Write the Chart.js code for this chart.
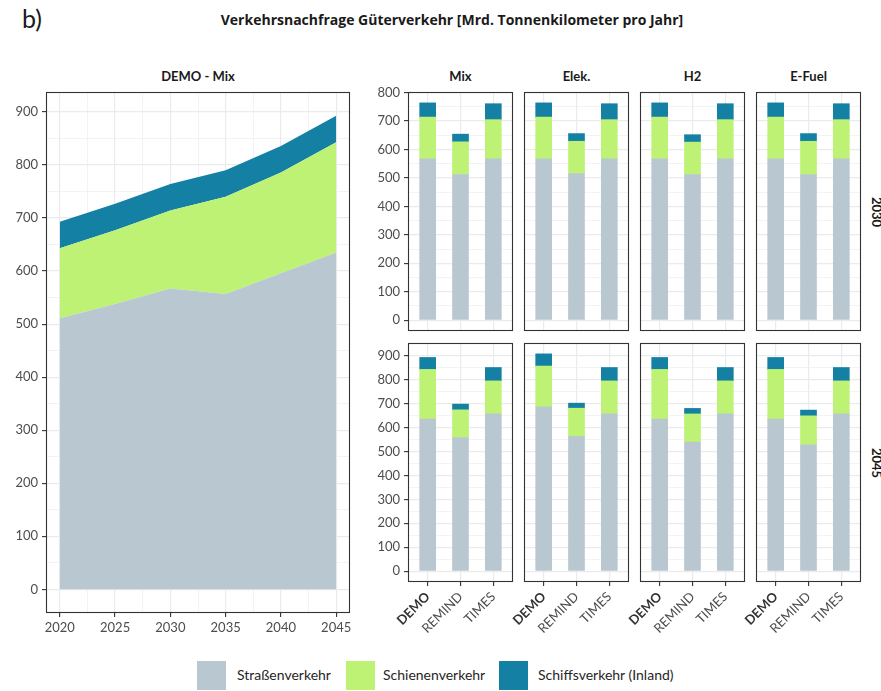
<!DOCTYPE html>
<html><head><meta charset="utf-8">
<script src="https://cdn.jsdelivr.net/npm/chart.js@4.4.1/dist/chart.umd.min.js"></script>
<style>
html,body{margin:0;padding:0;background:#fff;}
body{width:881px;height:691px;position:relative;overflow:hidden;font-family:Lato,"Open Sans",sans-serif;}
canvas{position:absolute;left:0;top:0;}
.t{position:absolute;white-space:nowrap;color:#1a1a1a;line-height:1;}
.strip{font-weight:bold;font-size:13px;transform:translateX(-50%);}
.sq{position:absolute;width:29px;height:29px;}
</style></head><body>
<div class="t" style="left:22px;top:6px;font-size:25px;">b)</div>
<div class="t" id="title" style="left:452px;top:13px;font-size:14px;font-weight:bold;font-family:'Open Sans',sans-serif;transform:translateX(-50%);">Verkehrsnachfrage Güterverkehr [Mrd. Tonnenkilometer pro Jahr]</div>
<div id="labels"></div>
<script>
// ---------------- data ----------------
const seriesNames = ['Straßenverkehr', 'Schienenverkehr', 'Schiffsverkehr (Inland)'];
const seriesColors = ['#B9C7D0', '#BEF274', '#1380A4'];

// left panel: DEMO - Mix over time
const years = [2020, 2025, 2030, 2035, 2040, 2045];
const demoRoad = [511, 538, 567, 557, 596, 635];
const demoRail = [132, 139, 147, 183, 190, 208];
const demoShip = [50, 50, 50, 50, 50, 50];

// facet grid: columns = scenarios, rows = years, bars = models
const models = ['DEMO', 'REMIND', 'TIMES'];
const scenarios = ['Mix', 'Elek.', 'H2', 'E-Fuel'];
const rowYears = ['2030', '2045'];

// values per scenario (Mix, Elek., H2, E-Fuel), each [DEMO, REMIND, TIMES]
const road2030 = [[567, 512, 567], [567, 515, 567], [567, 512, 567], [567, 512, 567]];
const rail2030 = [[147, 115, 138], [147, 114, 138], [147, 114, 138], [147, 117, 138]];
const ship2030 = [[50, 27, 56], [50, 27, 56], [50, 26, 56], [50, 27, 56]];

const road2045 = [[635, 558, 657], [687, 563, 657], [635, 539, 657], [635, 528, 657]];
const rail2045 = [[208, 116, 138], [170, 118, 138], [208, 118, 138], [208, 121, 138]];
const ship2045 = [[50, 24, 56], [51, 21, 56], [50, 23, 56], [50, 24, 56]];

const rowData = [[road2030, rail2030, ship2030], [road2045, rail2045, ship2045]];

// ---------------- helpers ----------------
const W = 881, H = 691;
const FONT = 'Lato, "Open Sans", sans-serif';
const GRID = '#EBEBEB';
const TICKC = '#333333';
const LABC = '#4D4D4D';

const boxPlugin = {
  id: 'panelBox',
  afterDraw(chart) {
    const a = chart.chartArea, c = chart.ctx;
    c.save();
    c.strokeStyle = '#333333';
    c.lineWidth = 1.1;
    c.strokeRect(a.left + 0.5, a.top + 0.5, a.right - a.left - 1, a.bottom - a.top - 1);
    c.restore();
  }
};

function stepRange(a, b, s) { const r = []; for (let v = a; v <= b + 1e-9; v += s) r.push(+v.toFixed(4)); return r; }
function expand(lo, hi) { const d = (hi - lo) * 0.05; return [lo - d, hi + d]; }
function isMajorY(ctx) { return ctx.tick && Math.abs(ctx.tick.value % 100) < 1e-6; }

function yScale(lo, hi, show, yw) {
  return {
    type: 'linear', stacked: true, min: lo, max: hi,
    afterBuildTicks: ax => { ax.ticks = stepRange(0, hi, 50).map(v => ({ value: v })); },
    afterFit: ax => { ax.width = yw; },
    grid: {
      color: GRID, lineWidth: ctx => isMajorY(ctx) ? 1.2 : 0.6,
      drawTicks: show, tickLength: 4, tickWidth: 1.1,
      tickColor: ctx => isMajorY(ctx) ? TICKC : 'rgba(0,0,0,0)'
    },
    border: { display: false },
    ticks: {
      display: show, padding: 4, color: LABC, autoSkip: false,
      font: { family: FONT, size: 13 },
      callback: v => (Math.abs(v % 100) < 1e-6 ? String(v) : '')
    }
  };
}

function baseOptions(box, yw, xh) {
  return {
    responsive: false, animation: false, events: [],
    layout: { padding: { left: box.l - yw, top: box.t, right: W - box.r, bottom: H - box.b - xh } },
    plugins: { legend: { display: false }, tooltip: { enabled: false }, title: { display: false } }
  };
}

function addCanvas() {
  const cv = document.createElement('canvas');
  cv.width = W; cv.height = H;
  cv.style.width = W + 'px'; cv.style.height = H + 'px';
  document.body.appendChild(cv);
  return cv;
}

function addText(txt, x, y, cls, extra) {
  const d = document.createElement('div');
  d.className = 't ' + (cls || '');
  d.textContent = txt;
  d.style.left = x + 'px'; d.style.top = y + 'px';
  if (extra) Object.assign(d.style, extra);
  document.getElementById('labels').appendChild(d);
  return d;
}

// ---------------- left area panel ----------------
(function () {
  const box = { l: 46, t: 92, r: 350, b: 613 };
  const yw = 46, xh = 40;
  const totals = years.map((_, i) => demoRoad[i] + demoRail[i] + demoShip[i]);
  const [ylo, yhi] = expand(0, Math.max(...totals));
  const [xlo, xhi] = expand(years[0], years[years.length - 1]);
  const xt = [];
  years.forEach((y, i) => { xt.push(y); if (i < years.length - 1) xt.push((y + years[i + 1]) / 2); });
  const isMajorX = ctx => ctx.tick && years.includes(ctx.tick.value);
  const series = [demoRoad, demoRail, demoShip];
  const opts = baseOptions(box, yw, xh);
  opts.scales = {
    x: {
      type: 'linear', min: xlo, max: xhi, offset: false,
      afterBuildTicks: ax => { ax.ticks = xt.map(v => ({ value: v })); },
      afterFit: ax => { ax.height = xh; },
      grid: {
        offset: false,
        color: GRID, lineWidth: ctx => isMajorX(ctx) ? 1.2 : 0.6,
        tickLength: 4, tickWidth: 1.1,
        tickColor: ctx => isMajorX(ctx) ? TICKC : 'rgba(0,0,0,0)'
      },
      border: { display: false },
      ticks: {
        padding: 3, color: LABC, autoSkip: false, maxRotation: 0, minRotation: 0,
        font: { family: FONT, size: 13 },
        callback: v => (years.includes(v) ? String(v) : '')
      }
    },
    y: yScale(ylo, yhi, true, yw)
  };
  new Chart(addCanvas(), {
    type: 'line',
    data: {
      datasets: series.map((vals, s) => ({
        label: seriesNames[s],
        data: years.map((y, i) => ({ x: y, y: vals[i] })),
        backgroundColor: seriesColors[s],
        borderColor: seriesColors[s],
        borderWidth: 0, pointRadius: 0, tension: 0,
        fill: s === 0 ? 'origin' : '-1'
      }))
    },
    options: opts,
    plugins: [boxPlugin]
  });
  addText('DEMO - Mix', (box.l + box.r) / 2, 70, 'strip');
})();

// ---------------- facet bar panels ----------------
const colL = [408, 524, 640, 756];
const colW = 105;
const rowBox = [{ t: 92, b: 331 }, { t: 343, b: 582 }];

rowData.forEach((rd, r) => {
  const [road, rail, ship] = rd;
  let rmax = 0;
  scenarios.forEach((_, c) => models.forEach((_, m) => { rmax = Math.max(rmax, road[c][m] + rail[c][m] + ship[c][m]); }));
  const [ylo, yhi] = expand(0, rmax);
  const [xlo, xhi] = [0.4, models.length + 0.6];
  const bottom = r === rowData.length - 1;
  scenarios.forEach((scn, c) => {
    const box = { l: colL[c], r: colL[c] + colW, t: rowBox[r].t, b: rowBox[r].b };
    const showY = c === 0;
    const yw = 40;
    const xh = bottom ? 60 : 0;
    const opts = baseOptions(box, yw, xh);
    opts.scales = {
      x: {
        type: 'linear', min: xlo, max: xhi, offset: false,
        afterBuildTicks: ax => { ax.ticks = models.map((_, i) => ({ value: i + 1 })); },
        afterFit: ax => { ax.height = xh; },
        grid: { offset: false, color: GRID, lineWidth: 1.2, drawTicks: bottom, tickLength: 4, tickWidth: 1.1, tickColor: TICKC },
        border: { display: false },
        ticks: {
          display: bottom, padding: 3, autoSkip: false, minRotation: 45, maxRotation: 45,
          color: ctx => (ctx.tick && models[ctx.tick.value - 1] === 'DEMO' ? '#333333' : LABC),
          font: ctx => ({ family: FONT, size: 13, weight: (ctx.tick && models[ctx.tick.value - 1] === 'DEMO') ? 'bold' : 'normal' }),
          callback: v => models[v - 1] || ''
        }
      },
      y: yScale(ylo, yhi, showY, yw)
    };
    if (!showY) {
      opts.scales.y.ticks.display = false;
      opts.scales.y.grid.drawTicks = false;
    }
    new Chart(addCanvas(), {
      type: 'bar',
      data: {
        datasets: [road, rail, ship].map((arr, s) => ({
          label: seriesNames[s],
          data: models.map((m, i) => ({ x: i + 1, y: arr[c][i] })),
          backgroundColor: seriesColors[s],
          borderWidth: 0,
          grouped: false,
          barThickness: 16
        }))
      },
      options: opts,
      plugins: [boxPlugin]
    });
    if (r === 0) addText(scn, box.l + colW / 2, 70, 'strip');
  });
  addText(rowYears[r], 876, (rowBox[r].t + rowBox[r].b) / 2, 'strip',
    { transform: 'translate(-50%,-50%) rotate(90deg)' });
});

// ---------------- legend ----------------
const sqX = [197, 346, 499];
const txX = [237, 383, 538];
seriesNames.forEach((n, s) => {
  const sq = document.createElement('div');
  sq.className = 'sq';
  sq.style.left = sqX[s] + 'px'; sq.style.top = '661px';
  sq.style.background = seriesColors[s];
  document.getElementById('labels').appendChild(sq);
  addText(n, txX[s], 668, '', { fontSize: '14px', color: '#262626' });
});
</script>
</body></html>
